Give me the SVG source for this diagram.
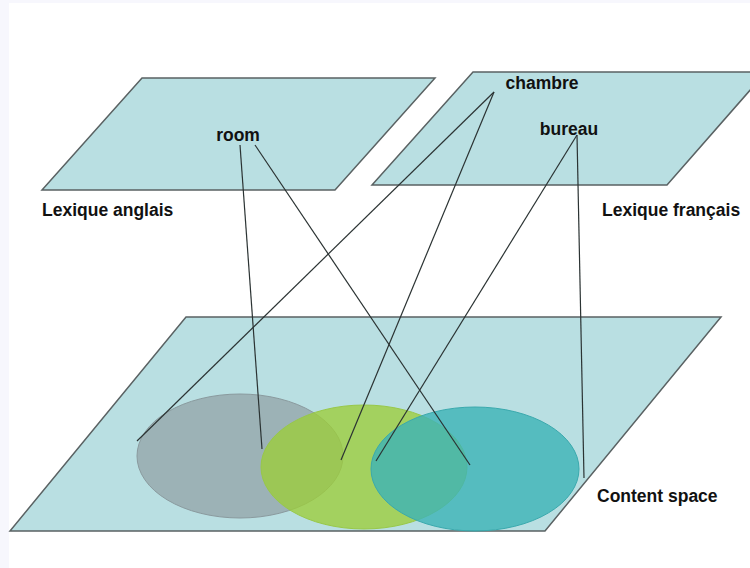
<svg xmlns="http://www.w3.org/2000/svg" width="750" height="568" viewBox="0 0 750 568">
  <style>
    .plane { fill: #b9dfe2; stroke: #5a6263; stroke-width: 1.5; }
    .label { font-family: "Liberation Sans", Arial, sans-serif; font-size: 17.5px; font-weight: bold; fill: #111; }
    .link { stroke: #2b3333; stroke-width: 1.2; fill: none; }
  </style>
  <!-- page background -->
  <rect x="0" y="0" width="750" height="568" fill="#f7f7fd"/>
  <rect x="9" y="3" width="741" height="565" fill="#ffffff"/>

  <!-- English lexicon plane -->
  <g id="lexique-anglais">
    <polygon class="plane" points="142,78 435,78 335,190 42,190"/>
    <text class="label" x="42" y="216">Lexique anglais</text>
  </g>

  <!-- French lexicon plane -->
  <g id="lexique-francais">
    <polygon class="plane" points="473,72 766,72 667,185 372,185"/>
    <text class="label" x="602" y="216">Lexique français</text>
  </g>

  <!-- content space plane -->
  <g id="content-space">
    <polygon class="plane" points="186,317 721,317 545,531 10,531"/>
    <text class="label" x="597" y="502">Content space</text>
  </g>

  <!-- sense regions -->
  <g id="region-gray">
    <ellipse cx="240" cy="456" rx="103" ry="62" fill="#94a5a9" fill-opacity="0.78" stroke="#8a9a9e" stroke-width="1"/>
  </g>
  <g id="region-green">
    <ellipse cx="364" cy="467" rx="103" ry="62" fill="#9ccd3a" fill-opacity="0.78" stroke="#98c848" stroke-width="1"/>
  </g>
  <g id="region-teal">
    <ellipse cx="475" cy="469" rx="104" ry="62" fill="#3cb3b7" fill-opacity="0.8" stroke="#3aa9ad" stroke-width="1"/>
  </g>

  <!-- words -->
  <g id="word-room">
    <text class="label" x="238" y="141" text-anchor="middle">room</text>
  </g>
  <g id="word-chambre">
    <text class="label" x="542" y="89" text-anchor="middle">chambre</text>
  </g>
  <g id="word-bureau">
    <text class="label" x="569" y="135" text-anchor="middle">bureau</text>
  </g>

  <!-- word-to-region connectors -->
  <g id="connectors">
    <line class="link" x1="240" y1="145" x2="262" y2="449"/>
    <line class="link" x1="255" y1="145" x2="470" y2="465"/>
    <line class="link" x1="494" y1="92" x2="137" y2="441"/>
    <line class="link" x1="494" y1="92" x2="341" y2="460"/>
    <line class="link" x1="577" y1="135" x2="376" y2="461"/>
    <line class="link" x1="577" y1="135" x2="584" y2="478"/>
  </g>
</svg>
